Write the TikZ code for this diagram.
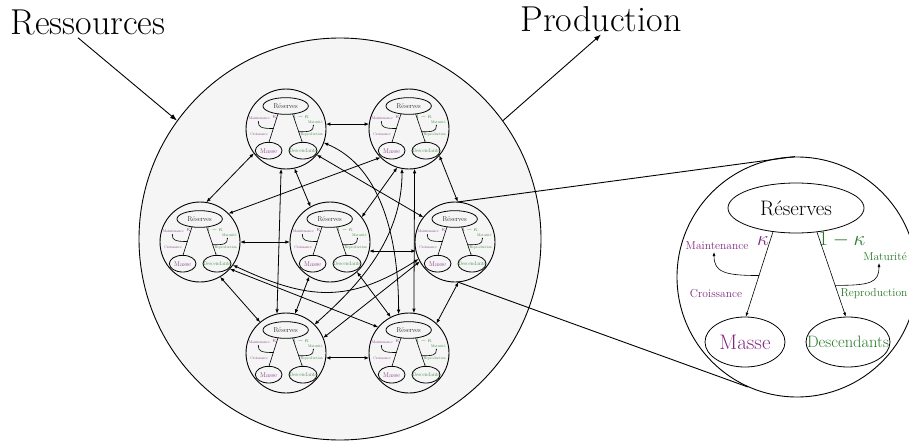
\documentclass[tikz,border=0pt]{standalone}
\usepackage{fontspec}
\usetikzlibrary{shapes.geometric,arrows.meta}

\definecolor{vio}{RGB}{128,40,128}
\definecolor{grn}{RGB}{40,122,40}
\definecolor{popfill}{RGB}{245,245,245}

\tikzset{
  ring/.style={circle, draw, minimum size=240pt, inner sep=0pt, line width=0.9pt},
  oval/.style={ellipse, draw, inner sep=0pt, line width=0.8pt},
  lab/.style={font=\fontsize{11.5}{13}\selectfont, inner sep=1pt},
  coef/.style={font=\fontsize{20}{24}\selectfont, inner sep=1pt},
  boxtxt/.style={font=\fontsize{21}{25}\selectfont},
  flow/.style={line width=0.6pt, -{Latex[length=#1]}},
  link/.style={line width=0.8pt, {Latex[length=4.5pt,width=3.5pt]}-{Latex[length=4.5pt,width=3.5pt]}},
  feed/.style={line width=0.9pt, -{Latex[length=7pt,width=5pt]}},
  zoomline/.style={line width=0.9pt},
  title/.style={font=\fontsize{36}{40}\selectfont, inner sep=2pt},
  % one individual: reserves split between mass and offspring
  pics/cell/.style={code={
    \node[ring] (-ring) at (0,0) {};
    \node[oval, minimum width=136pt, minimum height=50pt] (-res) at (-1,-69) {};
    \node[boxtxt] (-restxt) at (-res) {Réserves};
    \node[oval, minimum width=80pt, minimum height=50pt] (-mas) at (-52,65) {};
    \node[boxtxt, text=vio] (-mastxt) at (-mas) {Masse};
    \node[oval, minimum width=84pt, minimum height=50pt] (-des) at (51,65) {};
    \node[font=\fontsize{16.5}{20}\selectfont, text=grn] (-destxt) at (-des) {Descendants};
    \node[lab, text=vio] (-mnt) at (-80,-31) {Maintenance};
    \node[lab, text=vio] (-cro) at (-81,17) {Croissance};
    \node[lab, text=grn] (-mat) at (88,-20) {Maturité};
    \node[lab, text=grn] (-rep) at (77,17) {Reproduction};
    \node[coef, text=vio] (-k) at (-34,-36) {$\kappa$};
    \node[coef, text=grn] (-k1) at (45,-37) {$1-\kappa$};
    \coordinate (-mtip) at (-83,-25);
    \coordinate (-ttip) at (82,-14);
    \draw[flow=#1] (-res.226) -- coordinate[pos=0.515] (-bl) (-mas.88);
    \draw[flow=#1] (-res.-49) -- coordinate[pos=0.63] (-br) (-des.95);
    \draw[flow=#1] (-bl) .. controls +(-35,0) and +(0,20) .. (-mtip);
    \draw[flow=#1] (-br) .. controls +(35,0) and +(0,20) .. (-ttip);
  }}
}

\begin{document}
\begin{tikzpicture}[x=1pt, y=-1pt]
\useasboundingbox (0,0) rectangle (909,441);

% population
\node[circle, draw, fill=popfill, minimum size=402pt, inner sep=0pt, line width=0.9pt] (pop) at (340,239) {};

\node[title, anchor=base] (res) at (88,35) {Ressources};
\node[title, anchor=base] (prod) at (601,32) {Production};
\draw[feed] ([xshift=-10pt]res.south) -- (pop.144);
\draw[feed] (pop.36) -- (prod.south);

% individuals
\begin{scope}[shift={(286,129)}, scale=1/3, transform shape] \pic (A) {cell=1.6pt}; \end{scope}
\begin{scope}[shift={(409,129)}, scale=1/3, transform shape] \pic (B) {cell=1.6pt}; \end{scope}
\begin{scope}[shift={(200,242)}, scale=1/3, transform shape] \pic (C) {cell=1.6pt}; \end{scope}
\begin{scope}[shift={(330,242)}, scale=1/3, transform shape] \pic (D) {cell=1.6pt}; \end{scope}
\begin{scope}[shift={(455,242)}, scale=1/3, transform shape] \pic (E) {cell=1.6pt}; \end{scope}
\begin{scope}[shift={(286,353)}, scale=1/3, transform shape] \pic (F) {cell=1.6pt}; \end{scope}
\begin{scope}[shift={(409,353)}, scale=1/3, transform shape] \pic (G) {cell=1.6pt}; \end{scope}

% interactions between individuals
\draw[link] (A-ring.7) -- (B-ring.173);
\draw[link] (C-ring) -- (D-ring);
\draw[link] (D-ring.-13) -- (E-ring.193);
\draw[link] (F-ring.-7) -- (G-ring.187);
\draw[link] (A-ring.217) -- (C-ring.81);
\draw[link] (B-ring.-41) -- (E-ring.86);
\draw[link] (C-ring.-60) -- (F-ring.130);
\draw[link] (E-ring.-85) -- (G-ring.47);
\draw[link] (B-ring.225) -- (C-ring.45);
\draw[link] (A-ring.-78) -- (D-ring.119);
\draw[link] (A-ring.-40) -- (E-ring.142);
\draw[link] (A-ring.-97) -- (F-ring.103);
\draw[link] (A-ring.-20) .. controls +(60,25) and +(0,-70) .. (G-ring.105);
\draw[link] (B-ring.-100) .. controls +(0,70) and +(45,-40) .. (F-ring.45);
\draw[link] (B-ring.-107) -- (D-ring.38);
\draw[link] (B-ring.-82) -- (G-ring.83);
\draw[link] (C-ring.-35) .. controls +(75,35) and +(-70,45) .. (E-ring.205);
\draw[link] (C-ring.-42) -- (G-ring.140);
\draw[link] (D-ring.-121) -- (F-ring.77);
\draw[link] (D-ring.-48) -- (G-ring.117);
\draw[link] (E-ring.209) -- (F-ring.22);

% magnified individual
\begin{scope}[shift={(797,277)}] \pic (M) {cell=4pt}; \end{scope}
\draw[zoomline] (E-ring.86) -- (M-ring.91);
\draw[zoomline] (E-ring.-86) -- (M-ring.-114);
\end{tikzpicture}
\end{document}
